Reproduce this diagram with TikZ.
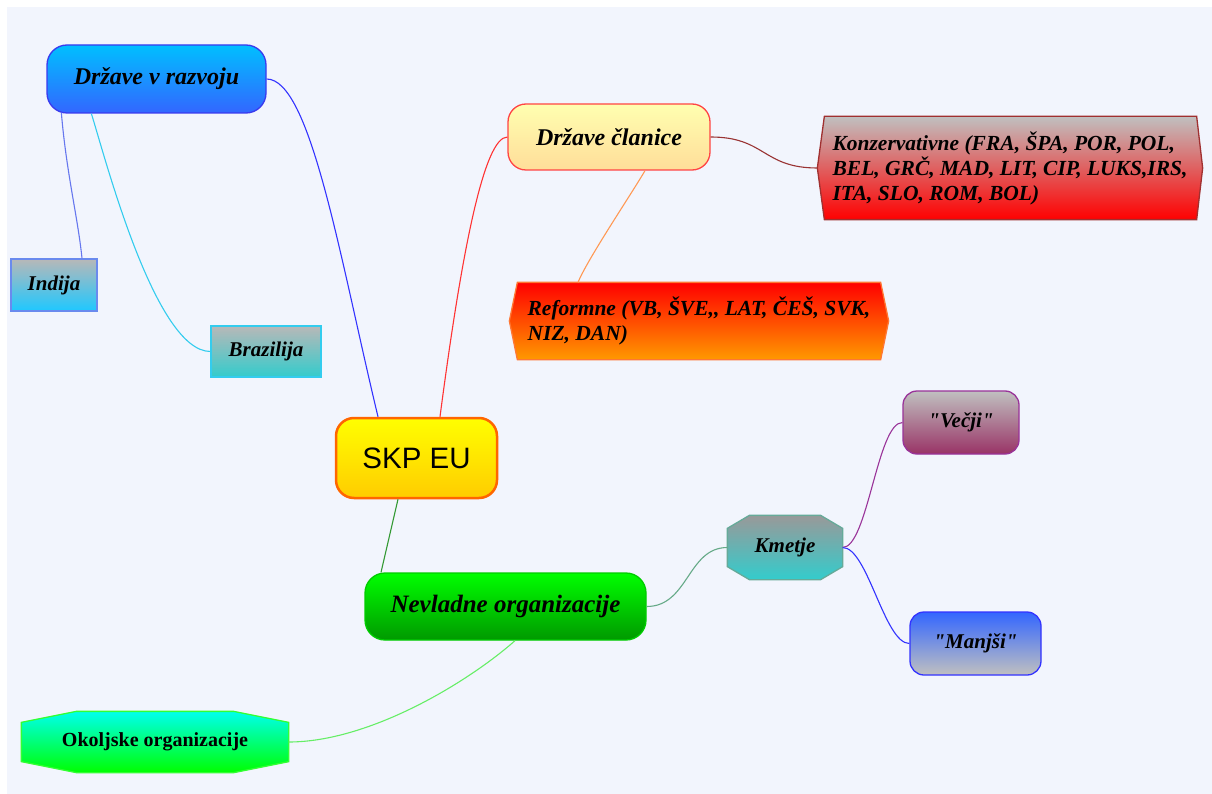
\documentclass[tikz,border=0pt]{standalone}
\usepackage{fontspec}
\setmainfont{Liberation Serif}[Ligatures=TeXOff]
\newfontfamily\arialfont{Liberation Sans}
\usetikzlibrary{calc}
\pgfdeclarelayer{back}
\pgfdeclarelayer{shapes}
\pgfsetlayers{back,shapes,main}
\definecolor{bgc}{HTML}{F2F5FD}
\definecolor{grayT}{HTML}{B8B8B8}
\definecolor{dvrTop}{HTML}{00BFFF}
\definecolor{dvrBot}{HTML}{3366FF}
\definecolor{dvrLine}{HTML}{3A3AEE}
\definecolor{indBot}{HTML}{1EC8FF}
\definecolor{indLine}{HTML}{6A8AEE}
\definecolor{braBot}{HTML}{33CCCC}
\definecolor{braLine}{HTML}{33CCEE}
\definecolor{skpTop}{HTML}{FFFF00}
\definecolor{skpBot}{HTML}{FFCC00}
\definecolor{skpLine}{HTML}{FF6600}
\definecolor{dcTop}{HTML}{FFFFB0}
\definecolor{dcBot}{HTML}{FFDD99}
\definecolor{dcLine}{HTML}{FF4444}
\definecolor{konTop}{HTML}{C0C0C0}
\definecolor{konBot}{HTML}{FF0000}
\definecolor{konLine}{HTML}{A03030}
\definecolor{refTop}{HTML}{FF0000}
\definecolor{refBot}{HTML}{FF9900}
\definecolor{refLine}{HTML}{FF7733}
\definecolor{nevTop}{HTML}{00FF00}
\definecolor{nevBot}{HTML}{009900}
\definecolor{nevLine}{HTML}{00CC00}
\definecolor{kmeTop}{HTML}{999999}
\definecolor{kmeBot}{HTML}{33CCCC}
\definecolor{kmeLine}{HTML}{66AA99}
\definecolor{vecTop}{HTML}{C0C0C0}
\definecolor{vecBot}{HTML}{993366}
\definecolor{vecLine}{HTML}{993399}
\definecolor{manTop}{HTML}{3366FF}
\definecolor{manBot}{HTML}{C0C0C0}
\definecolor{manLine}{HTML}{3333FF}
\definecolor{okoTop}{HTML}{00FFEE}
\definecolor{okoBot}{HTML}{00FF00}
\definecolor{okoLine}{HTML}{33FF33}
\definecolor{lnBlue}{HTML}{3333FF}
\definecolor{lnRed}{HTML}{FF3333}
\definecolor{lnDkRed}{HTML}{993333}
\definecolor{lnOrange}{HTML}{FF9955}
\definecolor{lnGreen}{HTML}{339933}
\definecolor{lnTeal}{HTML}{66AA88}
\definecolor{lnLtGreen}{HTML}{66EE66}
\definecolor{lnPurple}{HTML}{993399}
\definecolor{lnInd}{HTML}{6677EE}
\definecolor{lnCyan}{HTML}{33CCEE}
\begin{document}
\begin{tikzpicture}[x=1pt,y=-1pt,
  lbl/.style={font=\fontsize{#1}{25}\selectfont\bfseries\itshape, inner sep=0pt, text=black},
  lbl/.default=21,
  rbox/.style={rectangle, rounded corners=#1, line width=1.3pt},
  plainbox/.style={rectangle, inner sep=0pt, line width=1.3pt},
  link/.style={line width=1.1pt}
]
\useasboundingbox (0,0) rectangle (1212,794);
\begin{pgfonlayer}{back}
\fill[white] (0,0) rectangle (1212,794);
\fill[bgc] (7,7) rectangle (1212,794);
\end{pgfonlayer}

% rounded boxes
\node[lbl=24, rbox=20pt, minimum width=219pt, minimum height=68pt,
  top color=dvrTop, bottom color=dvrBot, draw=dvrLine] (dvr) at (156.5,79) {Države v razvoju};
\node[lbl=24, rbox=18pt, minimum width=202pt, minimum height=66pt,
  top color=dcTop, bottom color=dcBot, draw=dcLine] (dc) at (609,137) {Države članice};
\node[rbox=18pt, line width=2.5pt, inner sep=0pt, minimum width=161pt, minimum height=80pt,
  top color=skpTop, bottom color=skpBot, draw=skpLine,
  font=\arialfont\fontsize{29.5}{34}\selectfont] (skp) at (416.5,458) {SKP EU};
\node[lbl=25, rbox=20pt, minimum width=281pt, minimum height=67pt,
  top color=nevTop, bottom color=nevBot, draw=nevLine] (nev) at (505.5,606.5) {Nevladne organizacije};
\node[lbl, rbox=14pt, minimum width=116pt, minimum height=63pt,
  top color=vecTop, bottom color=vecBot, draw=vecLine] (vec) at (961,422.5) {"Večji"};
\node[lbl, rbox=14pt, minimum width=131pt, minimum height=63pt,
  top color=manTop, bottom color=manBot, draw=manLine] (man) at (975.5,643.5) {"Manjši"};

% plain rectangles
\node[lbl, plainbox, minimum width=86pt, minimum height=52pt,
  top color=grayT, bottom color=indBot, draw=indLine] (ind) at (54,285) {Indija};
\node[lbl, plainbox, minimum width=110pt, minimum height=51pt,
  top color=grayT, bottom color=braBot, draw=braLine] (bra) at (266,351.5) {Brazilija};

% custom outlined nodes
\node[lbl=21.5, plainbox, align=left, minimum width=384pt, minimum height=102pt] (kon) at (1010,168)
  {Konzervativne (FRA, ŠPA, POR, POL,\\BEL, GRČ, MAD, LIT, CIP, LUKS,IRS,\\ITA, SLO, ROM, BOL)};
\node[lbl=21.5, plainbox, align=left, minimum width=378pt, minimum height=76pt] (ref) at (699,321)
  {Reformne (VB, ŠVE,{},{} LAT, ČEŠ, SVK,\\NIZ, DAN)};
\node[lbl, plainbox, minimum width=114pt, minimum height=63pt] (kme) at (785,547.5) {Kmetje};
\node[plainbox, minimum width=266pt, minimum height=60pt,
  font=\fontsize{20}{24}\selectfont\bfseries] (oko) at (155,742) {Okoljske organizacije};

\begin{pgfonlayer}{shapes}
\path[top color=konTop, bottom color=konBot, draw=konLine, line width=1.3pt]
  (kon.west) -- ($(kon.north west)+(7,0)$) -- ($(kon.north east)+(-6,0)$) -- (kon.east)
  -- ($(kon.south east)+(-6,0)$) -- ($(kon.south west)+(7,0)$) -- cycle;
\path[top color=refTop, bottom color=refBot, draw=refLine, line width=1.3pt]
  (ref.west) -- ($(ref.north west)+(8,0)$) -- ($(ref.north east)+(-8,0)$) -- (ref.east)
  -- ($(ref.south east)+(-8,0)$) -- ($(ref.south west)+(8,0)$) -- cycle;
\path[top color=kmeTop, bottom color=kmeBot, draw=kmeLine, line width=1.3pt]
  ($(kme.north west)+(22,0)$) -- ($(kme.north east)+(-22,0)$) -- ($(kme.north east)+(0,13)$)
  -- ($(kme.south east)+(0,-13)$) -- ($(kme.south east)+(-22,0)$) -- ($(kme.south west)+(22,0)$)
  -- ($(kme.south west)+(0,-13)$) -- ($(kme.north west)+(0,13)$) -- cycle;
\path[top color=okoTop, bottom color=okoBot, draw=okoLine, line width=1.3pt]
  ($(oko.north west)+(55,0)$) -- ($(oko.north east)+(-55,0)$) -- ($(oko.north east)+(0,11)$)
  -- ($(oko.south east)+(0,-11)$) -- ($(oko.south east)+(-55,0)$) -- ($(oko.south west)+(55,0)$)
  -- ($(oko.south west)+(0,-11)$) -- ($(oko.north west)+(0,11)$) -- cycle;
\end{pgfonlayer}

% connectors
\draw[link, lnBlue] (dvr.east) .. controls +(44,0) and +(-38,-158) .. ($(skp.north)+(-38.5,0)$);
\draw[link, lnRed] (dc.west) .. controls +(-23,0) and +(22,-168) .. ($(skp.north)+(23.5,0)$);
\draw[link, lnDkRed] (dc.east) .. controls +(55,0) and +(-55,0) .. (kon.west);
\draw[link, lnOrange] ($(dc.south)+(36,0)$) .. controls +(-14,24) and +(10,-24) .. ($(ref.north)+(-121,0)$);
\draw[link, lnGreen] ($(skp.south)+(-18.5,0)$) -- ($(nev.north)+(-124.5,0)$);
\draw[link, lnTeal] (nev.east) .. controls +(42,0) and +(-40,0) .. (kme.west);
\draw[link, lnLtGreen] ($(nev.south)+(9.5,0)$) .. controls +(-45,40) and +(82,0) .. (oko.east);
\draw[link, lnPurple] (kme.east) .. controls +(25,0) and +(-25,0) .. (vec.west);
\draw[link, lnBlue] (kme.east) .. controls +(25,0) and +(-25,0) .. (man.west);
\draw[link, lnInd] ($(dvr.south west)+(15,-1)$) .. controls +(5,60) and +(-4,-40) .. ($(ind.north)+(28,0)$);
\draw[link, lnCyan] ($(dvr.south west)+(45,0)$) .. controls +(12,37) and +(-56,0) .. (bra.west);
\end{tikzpicture}
\end{document}
